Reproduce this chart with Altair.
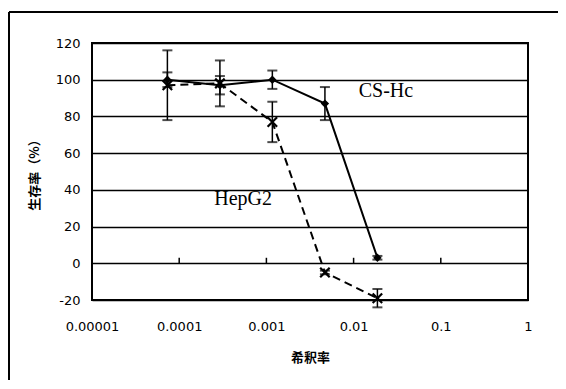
import altair as alt
import pandas as pd

dilution = [0.0000732, 0.000293, 0.00117, 0.00469, 0.01875]
cs_hc = [100, 97, 100, 87, 3]
cs_hc_err = [4, 5, 5, 9, 1]
hepg2 = [97, 98, 77, -5, -19]
hepg2_err = [19, 12.5, 11, 1, 5]
x_ticks = [0.00001, 0.0001, 0.001, 0.01, 0.1, 1]
y_ticks = [-20, 0, 20, 40, 60, 80, 100, 120]

rows = []
for i, d in enumerate(dilution):
    rows.append(dict(x=d, y=cs_hc[i], lo=cs_hc[i] - cs_hc_err[i], hi=cs_hc[i] + cs_hc_err[i], s="CS-Hc"))
    rows.append(dict(x=d, y=hepg2[i], lo=hepg2[i] - hepg2_err[i], hi=hepg2[i] + hepg2_err[i], s="HepG2"))
df = pd.DataFrame(rows)

xs = alt.Scale(type="log", domain=[0.00001, 1])
ys = alt.Scale(domain=[-20, 120], nice=False, zero=False)

x_axis = alt.Axis(values=x_ticks, labelExpr="format(datum.value, '.5~f')",
                  title="希釈率", ticks=False, domain=False, grid=False,
                  labelFont="DejaVu Sans", labelFontSize=13, labelColor="black",
                  labelPadding=20, titleFont="Noto Sans CJK JP", titleFontSize=13,
                  titleFontWeight="bold", titlePadding=18, titleColor="black",
                  labelFlush=False, labelOverlap=False)
y_axis = alt.Axis(values=y_ticks, labelExpr="'' + datum.value", title="生存率（%）", ticks=False, domain=False,
                  grid=True, gridColor="black", gridWidth=1.3, gridOpacity=1,
                  labelFont="DejaVu Sans", labelFontSize=13, labelColor="black",
                  labelPadding=12, titleFont="Noto Sans CJK JP", titleFontSize=13,
                  titleFontWeight="bold", titlePadding=14, titleColor="black",
                  labelOverlap=False, labelFlush=False)


def X(f):
    return alt.X(f, scale=xs, axis=x_axis)


def Y(f):
    return alt.Y(f, scale=ys, axis=y_axis)


base = alt.Chart(df)

err_rule = base.mark_rule(color="black", strokeWidth=1.5).encode(x=X("x:Q"), y=Y("lo:Q"), y2="hi:Q")
cap_hi = base.mark_tick(color="black", thickness=2, size=10, orient="horizontal").encode(x=X("x:Q"), y=Y("hi:Q"))
cap_lo = base.mark_tick(color="black", thickness=2, size=10, orient="horizontal").encode(x=X("x:Q"), y=Y("lo:Q"))

line_cs = base.transform_filter(alt.datum.s == "CS-Hc").mark_line(color="black", strokeWidth=2).encode(x=X("x:Q"), y=Y("y:Q"))
line_hep = base.transform_filter(alt.datum.s == "HepG2").mark_line(color="black", strokeWidth=2, strokeDash=[8, 5]).encode(x=X("x:Q"), y=Y("y:Q"))

pts_cs = base.transform_filter(alt.datum.s == "CS-Hc").mark_point(shape="diamond", filled=True, color="black", size=70, opacity=1).encode(x=X("x:Q"), y=Y("y:Q"))
pts_hep = base.transform_filter(alt.datum.s == "HepG2").mark_point(
    shape="M-1,-1L1,1M-1,1L1,-1", filled=False, color="black", strokeWidth=2.2, size=90, opacity=1).encode(x=X("x:Q"), y=Y("y:Q"))

tick_df = pd.DataFrame({"x": x_ticks[1:-1], "y0": [0] * 4, "y1": [3] * 4})
zero_ticks = alt.Chart(tick_df).mark_rule(color="black", strokeWidth=1.5).encode(
    x=X("x:Q"), y=Y("y0:Q"), y2="y1:Q")

label_df = pd.DataFrame({"x": [0.0235, 0.00054], "y": [94, 35], "t": ["CS-Hc", "HepG2"]})
labels = alt.Chart(label_df).mark_text(font="Liberation Serif", fontSize=20, color="black").encode(
    x=X("x:Q"), y=Y("y:Q"), text="t:N")

frame_v = alt.Chart(tick_df).mark_rule(color="black", strokeWidth=1.5).encode(
    x=alt.value(-83), y=alt.value(-31), y2=alt.value(400))
frame_h = alt.Chart(tick_df).mark_rule(color="black", strokeWidth=1.5).encode(
    x=alt.value(-83), x2=alt.value(600), y=alt.value(-31))

chart = alt.layer(
    line_hep, line_cs, err_rule, cap_hi, cap_lo, zero_ticks, pts_cs, pts_hep, labels, frame_v, frame_h
).properties(
    width=436, height=257,
    autosize=alt.AutoSizeParams(type="none"),
    padding={"left": 84, "top": 35, "right": 30, "bottom": 80},
    background="white",
).configure_view(stroke="black", strokeWidth=2)

chart.save("out.html", embed_options={"renderer": "svg", "actions": False})
